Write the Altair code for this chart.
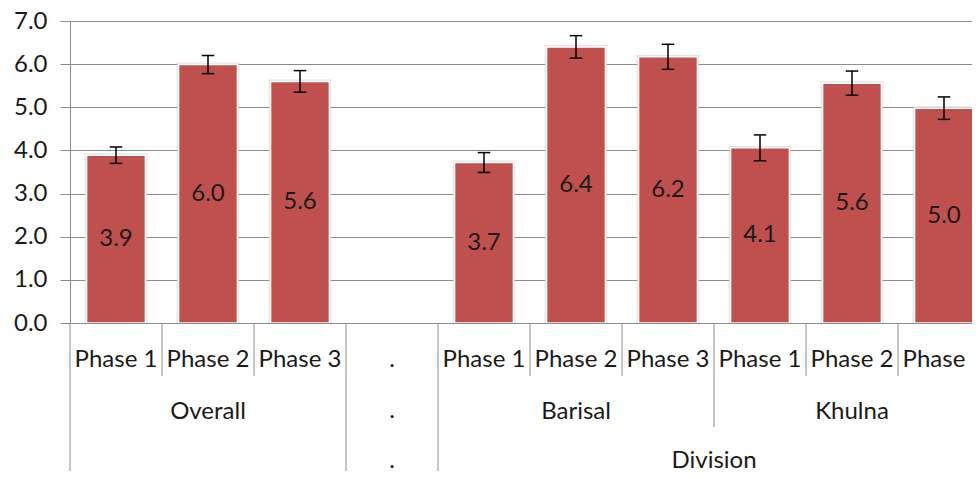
import altair as alt
import pandas as pd

# ---- data ----
bar_slots = [0, 1, 2, 4, 5, 6, 7, 8, 9]
bar_values = [3.89, 5.99, 5.60, 3.72, 6.40, 6.17, 4.06, 5.56, 4.98]
bar_errors = [0.19, 0.21, 0.25, 0.23, 0.26, 0.29, 0.30, 0.28, 0.26]

phase_slots = [0, 1, 2, 4, 5, 6, 7, 8, 9]
phase_labels = ["Phase 1", "Phase 2", "Phase 3", "Phase 1", "Phase 2", "Phase 3",
                "Phase 1", "Phase 2", "Phase 3"]

group_labels = ["Overall", "Barisal", "Khulna"]
group_centers = [1.5, 5.5, 8.5]

top_label = ["Division"]
top_center = [7.0]

blank_slot = 3
dot_rows = [346, 397, 447]  # baselines of the three "." rows (px below plot top)

boundaries = [0, 1, 2, 3, 4, 5, 6, 7, 8, 9]
boundary_len = ["full", "short", "short", "full", "full", "short", "short", "mid", "short", "short"]

FONT = "Lato"
TXT = "#1a1a1a"
GRID = "#8c8c8c"
RED = "#C0504D"
H = 302
W = 902
XMAX = W / 92.0

bars = pd.DataFrame({"slot": bar_slots, "value": bar_values, "err": bar_errors})
phases = pd.DataFrame({"slot": phase_slots, "label": phase_labels})
groups = pd.DataFrame({"center": group_centers, "label": group_labels})
tops = pd.DataFrame({"center": top_center, "label": top_label})
dots = pd.DataFrame({"slot": [blank_slot] * len(dot_rows), "row": dot_rows})
bounds = pd.DataFrame({"b": boundaries, "kind": boundary_len})

xs = alt.Scale(domain=[0, XMAX], nice=False, zero=False)
ys = alt.Scale(domain=[0, 7], nice=False)

yaxis = alt.Axis(
    values=[0, 1, 2, 3, 4, 5, 6, 7], format=".1f", grid=True, gridColor=GRID,
    gridWidth=1, domainColor=GRID, domainWidth=1, tickColor=GRID, tickSize=10,
    labelFont=FONT, labelFontSize=24, labelColor=TXT, labelPadding=13, title=None,
)
xaxis = None


def X(f):
    return alt.X(f, scale=xs, axis=xaxis)


def Y(f):
    return alt.Y(f, scale=ys, axis=yaxis)


base = alt.Chart(bars).transform_calculate(
    lo="datum.slot + 0.18",
    hi="datum.slot + 0.82",
    c="datum.slot + 0.5",
    cl="datum.slot + 0.5 - 0.068",
    cr="datum.slot + 0.5 + 0.068",
    top="datum.value + datum.err",
    bot="datum.value - datum.err",
    mid="datum.value / 2",
)

halo = base.mark_rect(fill=RED, stroke="#d0d0d0", strokeWidth=4, strokeOpacity=0.55, clip=True).encode(
    x=X("lo:Q"), x2="hi:Q", y=Y("value:Q"), y2=alt.datum(0),
)
bar_layer = base.mark_rect(fill=RED, stroke="#ffffff", strokeWidth=1.5, clip=True).encode(
    x=X("lo:Q"), x2="hi:Q", y=Y("value:Q"), y2=alt.datum(0),
)

err_v = base.mark_rule(color="#000000", strokeWidth=1.5, clip=True).encode(
    x=X("c:Q"), y=Y("bot:Q"), y2="top:Q",
)
cap_t = base.mark_rule(color="#000000", strokeWidth=1.5, clip=True).encode(
    x=X("cl:Q"), x2="cr:Q", y=Y("top:Q"),
)
cap_b = base.mark_rule(color="#000000", strokeWidth=1.5, clip=True).encode(
    x=X("cl:Q"), x2="cr:Q", y=Y("bot:Q"),
)

val_text = base.mark_text(font=FONT, fontSize=24, color=TXT, baseline="middle", clip=True).encode(
    x=X("c:Q"), y=Y("mid:Q"), text=alt.Text("value:Q", format=".1f"),
)

bound_full = alt.Chart(bounds).mark_rule(color=GRID, strokeWidth=1).encode(
    x=X("b:Q"), y=alt.value(H), y2=alt.value(450),
).transform_filter("datum.kind == 'full'")
bound_mid = alt.Chart(bounds).mark_rule(color=GRID, strokeWidth=1).encode(
    x=X("b:Q"), y=alt.value(H), y2=alt.value(406),
).transform_filter("datum.kind == 'mid'")
bound_short = alt.Chart(bounds).mark_rule(color=GRID, strokeWidth=1).encode(
    x=X("b:Q"), y=alt.value(H), y2=alt.value(355),
).transform_filter("datum.kind == 'short'")

phase_text = alt.Chart(phases).transform_calculate(c="datum.slot + 0.5").mark_text(
    font=FONT, fontSize=24, color=TXT, baseline="alphabetic"
).encode(x=X("c:Q"), y=alt.value(346), text="label:N")

dot_text = alt.Chart(dots).transform_calculate(c="datum.slot + 0.5").mark_text(
    font=FONT, fontSize=24, color=TXT, baseline="alphabetic", text="."
).encode(x=X("c:Q"), y=alt.Y("row:Q", scale=None))

group_text = alt.Chart(groups).mark_text(
    font=FONT, fontSize=24, color=TXT, baseline="alphabetic"
).encode(x=X("center:Q"), y=alt.value(398), text="label:N")

top_text = alt.Chart(tops).mark_text(
    font=FONT, fontSize=24, color=TXT, baseline="alphabetic"
).encode(x=X("center:Q"), y=alt.value(447), text="label:N")

chart = alt.layer(
    halo, bar_layer, err_v, cap_t, cap_b, val_text,
    bound_full, bound_mid, bound_short, phase_text, dot_text, group_text, top_text,
).properties(
    width=W, height=H,
    autosize=alt.AutoSizeParams(type="none"),
    padding={"left": 62, "top": 13, "right": 0, "bottom": 148},
    background="white",
).configure_view(stroke=None)

chart.save("out.html", embed_options={"renderer": "svg", "actions": False})
